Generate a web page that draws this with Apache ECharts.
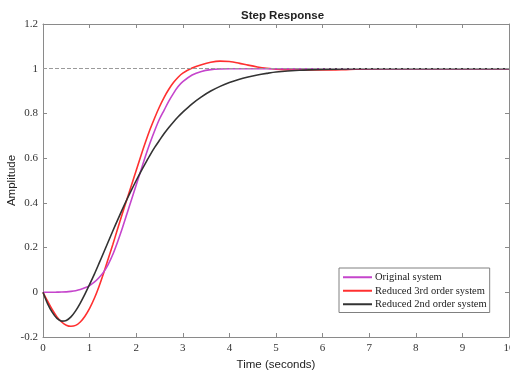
<!DOCTYPE html>
<html><head><meta charset="utf-8">
<script src="https://cdn.jsdelivr.net/npm/echarts@6/dist/echarts.min.js"></script>
<style>html,body{margin:0;padding:0;background:#fff}#c{width:510px;height:372px}</style>
</head><body><div id="c"></div>
<script>
const times = [0,0.1,0.2,0.3,0.4,0.5,0.6,0.7,0.8,0.9,1.0,1.1,1.2,1.3,1.4,1.5,1.6,1.7,1.8,1.9,2.0,2.1,2.2,2.3,2.4,2.5,2.6,2.7,2.8,2.9,3.0,3.2,3.4,3.6,3.8,4.0,4.2,4.4,4.6,4.8,5.0,5.5,6,6.5,7,8,9,10];
const original = [0,0,0,0.0005,0.001,0.002,0.004,0.007,0.012,0.02,0.03,0.045,0.065,0.09,0.125,0.17,0.225,0.285,0.35,0.415,0.48,0.545,0.61,0.67,0.725,0.775,0.815,0.855,0.89,0.92,0.942,0.972,0.988,0.996,0.999,1.0,1.0,1.0,1.0,1.0,1.0,1.0,1.0,1.0,1.0,1,1,1];
const reduced3 = [0,-0.04,-0.078,-0.11,-0.133,-0.147,-0.152,-0.148,-0.133,-0.107,-0.072,-0.028,0.025,0.085,0.15,0.215,0.283,0.35,0.415,0.48,0.545,0.61,0.672,0.73,0.782,0.83,0.872,0.908,0.938,0.962,0.98,1.003,1.018,1.029,1.034,1.032,1.025,1.016,1.008,1.002,0.998,0.994,0.994,0.996,0.999,1,1,1];
const reduced2 = [0,-0.052,-0.09,-0.117,-0.129,-0.126,-0.11,-0.083,-0.048,-0.008,0.035,0.08,0.128,0.177,0.226,0.275,0.323,0.37,0.415,0.458,0.5,0.54,0.578,0.615,0.649,0.68,0.71,0.737,0.762,0.785,0.806,0.843,0.874,0.9,0.921,0.938,0.952,0.963,0.972,0.979,0.985,0.993,0.997,0.999,1.0,1,1,1];
const seriesNames = ['Original system','Reduced 3rd order system','Reduced 2nd order system'];
const xTicks = {min:0, max:10, interval:1};
const yTicks = {min:-0.2, max:1.2, interval:0.2};

const pair = arr => times.map((t,i)=>[t,arr[i]]);
const serif = 'Liberation Serif';
const sans = 'Liberation Sans';
const axisLineStyle = {color:'#8a8a8a', width:1};
const chart = echarts.init(document.getElementById('c'), null, {renderer:'canvas'});
const mkX = (pos, showLabel) => ({
  type:'value', position:pos, min:xTicks.min, max:xTicks.max, interval:xTicks.interval,
  axisLine:{show:true, onZero:false, lineStyle:axisLineStyle},
  axisTick:{show:true, inside:true, length:4, lineStyle:axisLineStyle},
  axisLabel:{show:showLabel, fontFamily:serif, fontSize:11, color:'#333', margin:6},
  splitLine:{show:false},
  name: showLabel ? 'Time (seconds)' : '', nameLocation:'middle', nameGap:20,
  nameTextStyle:{fontFamily:sans, fontSize:11.5, color:'#222'}
});
const mkY = (pos, showLabel) => ({
  type:'value', position:pos, min:yTicks.min, max:yTicks.max, interval:yTicks.interval,
  axisLine:{show:true, onZero:false, lineStyle:axisLineStyle},
  axisTick:{show:true, inside:true, length:4, lineStyle:axisLineStyle},
  axisLabel:{show:showLabel, fontFamily:serif, fontSize:11, color:'#333', margin:5,
    formatter: v => String(+v.toFixed(1))},
  splitLine:{show:false},
  name: showLabel ? 'Amplitude' : '', nameLocation:'middle', nameGap:25, nameMoveOverlap:false,
  nameTextStyle:{fontFamily:sans, fontSize:11.5, color:'#222'}
});
chart.setOption({
  animation:false,
  backgroundColor:'#fff',
  title:{text:'Step Response', left:236, top:5,
    textStyle:{fontFamily:sans, fontSize:11.5, fontWeight:'bold', color:'#222'}},
  grid:{left:43, right:1, top:24, bottom:35, containLabel:false, outerBoundsMode:'none'},
  xAxis:[mkX('bottom', true), mkX('top', false)],
  yAxis:[mkY('left', true), mkY('right', false)],
  legend:{
    data:seriesNames, orient:'vertical', left:339, top:268,
    backgroundColor:'#fff', borderColor:'#808080', borderWidth:1, borderRadius:0,
    padding:[3,3,2,4], itemGap:1, itemWidth:29, itemHeight:2, icon:'rect',
    textStyle:{fontFamily:serif, fontSize:10.5, lineHeight:12.5, color:'#222', padding:[0,0,0,-2]}
  },
  series:[
    {name:seriesNames[0], type:'line', data:pair(original), showSymbol:false, smooth:0.3,
     lineStyle:{color:'#c545cc', width:1.6}, itemStyle:{color:'#c545cc'}, z:3,
     markLine:{silent:true, symbol:'none', label:{show:false},
       lineStyle:{color:'#9a9a9a', type:[4,2], width:1}, data:[{yAxis:1}]}},
    {name:seriesNames[1], type:'line', data:pair(reduced3), showSymbol:false, smooth:0.3,
     lineStyle:{color:'#ff3030', width:1.6}, itemStyle:{color:'#ff3030'}, z:2},
    {name:seriesNames[2], type:'line', data:pair(reduced2), showSymbol:false, smooth:0.3,
     lineStyle:{color:'#333333', width:1.6}, itemStyle:{color:'#333333'}, z:4}
  ]
});
</script></body></html>
